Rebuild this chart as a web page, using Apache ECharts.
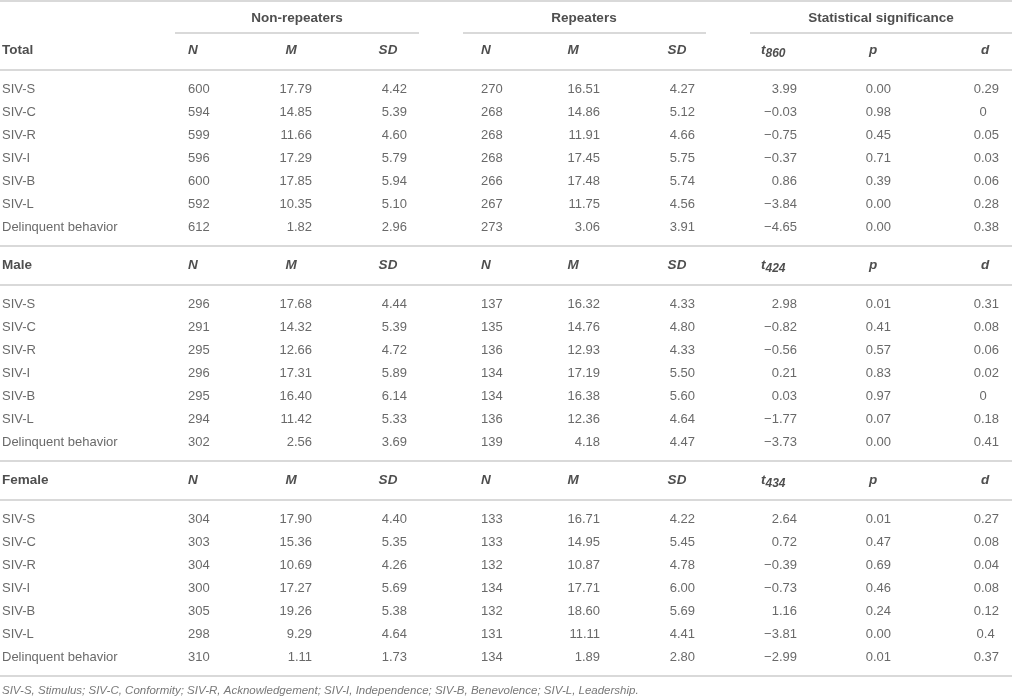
<!DOCTYPE html>
<html>
<head>
<meta charset="utf-8">
<title>Non-repeaters and repeaters</title>
<script src="https://cdn.jsdelivr.net/npm/echarts@6/dist/echarts.min.js"></script>
<style>
html,body{margin:0;padding:0;background:#fff;}
#main{width:1012px;height:698px;}
</style>
</head>
<body>
<div id="main"></div>
<script>
// 表格数据
var rowNames = ['SIV-S', 'SIV-C', 'SIV-R', 'SIV-I', 'SIV-B', 'SIV-L', 'Delinquent behavior'];
var groupNames = ['Total', 'Male', 'Female'];
var tDegrees = ['860', '424', '434'];
var topHeads = ['Non-repeaters', 'Repeaters', 'Statistical significance'];
var colHeads = ['N', 'M', 'SD', 'N', 'M', 'SD', 't', 'p', 'd'];
var footnote = 'SIV-S, Stimulus; SIV-C, Conformity; SIV-R, Acknowledgement; SIV-I, Independence; SIV-B, Benevolence; SIV-L, Leadership.';

// Total
var totalNonRepN = [600, 594, 599, 596, 600, 592, 612];
var totalNonRepM = [17.79, 14.85, 11.66, 17.29, 17.85, 10.35, 1.82];
var totalNonRepSD = [4.42, 5.39, 4.60, 5.79, 5.94, 5.10, 2.96];
var totalRepN = [270, 268, 268, 268, 266, 267, 273];
var totalRepM = [16.51, 14.86, 11.91, 17.45, 17.48, 11.75, 3.06];
var totalRepSD = [4.27, 5.12, 4.66, 5.75, 5.74, 4.56, 3.91];
var totalT = [3.99, -0.03, -0.75, -0.37, 0.86, -3.84, -4.65];
var totalP = [0.00, 0.98, 0.45, 0.71, 0.39, 0.00, 0.00];
var totalD = [0.29, 0, 0.05, 0.03, 0.06, 0.28, 0.38];
// Male
var maleNonRepN = [296, 291, 295, 296, 295, 294, 302];
var maleNonRepM = [17.68, 14.32, 12.66, 17.31, 16.40, 11.42, 2.56];
var maleNonRepSD = [4.44, 5.39, 4.72, 5.89, 6.14, 5.33, 3.69];
var maleRepN = [137, 135, 136, 134, 134, 136, 139];
var maleRepM = [16.32, 14.76, 12.93, 17.19, 16.38, 12.36, 4.18];
var maleRepSD = [4.33, 4.80, 4.33, 5.50, 5.60, 4.64, 4.47];
var maleT = [2.98, -0.82, -0.56, 0.21, 0.03, -1.77, -3.73];
var maleP = [0.01, 0.41, 0.57, 0.83, 0.97, 0.07, 0.00];
var maleD = [0.31, 0.08, 0.06, 0.02, 0, 0.18, 0.41];
// Female
var femaleNonRepN = [304, 303, 304, 300, 305, 298, 310];
var femaleNonRepM = [17.90, 15.36, 10.69, 17.27, 19.26, 9.29, 1.11];
var femaleNonRepSD = [4.40, 5.35, 4.26, 5.69, 5.38, 4.64, 1.73];
var femaleRepN = [133, 133, 132, 134, 132, 131, 134];
var femaleRepM = [16.71, 14.95, 10.87, 17.71, 18.60, 11.11, 1.89];
var femaleRepSD = [4.22, 5.45, 4.78, 6.00, 5.69, 4.41, 2.80];
var femaleT = [2.64, 0.72, -0.39, -0.73, 1.16, -3.81, -2.99];
var femaleP = [0.01, 0.47, 0.69, 0.46, 0.24, 0.00, 0.01];
var femaleD = [0.27, 0.08, 0.04, 0.08, 0.12, 0.4, 0.37];

var blocks = [
    [totalNonRepN, totalNonRepM, totalNonRepSD, totalRepN, totalRepM, totalRepSD, totalT, totalP, totalD],
    [maleNonRepN, maleNonRepM, maleNonRepSD, maleRepN, maleRepM, maleRepSD, maleT, maleP, maleD],
    [femaleNonRepN, femaleNonRepM, femaleNonRepSD, femaleRepN, femaleRepM, femaleRepSD, femaleT, femaleP, femaleD]
];

// 版式
var W = 1012, H = 698;
var font = '"Liberation Sans", Arial, Helvetica, sans-serif';
var bodyColor = '#444';
var headColor = '#222';
var ruleColor = '#cdcdcd';
var labelX = 2;
var colX = [188, 312, 407, 481, 600, 695, 797, 891, 999];
var colAlign = ['left', 'right', 'right', 'left', 'right', 'right', 'right', 'right', 'right'];
var headX = [188, 291, 388, 481, 573, 677, 761, 873, 985];
var headAlign = ['left', 'center', 'center', 'left', 'center', 'center', 'left', 'center', 'center'];
var topHeadX = [297, 584, 881];
var topHeadY = 18;
var underline = [[175, 419], [463, 706], [750, 1012]];
var underlineY = 33;
var blockTop = [50, 265, 480];
var rowStep = 23;

// d 列的对齐（原表不完全按小数点对齐）
var ctx = document.createElement('canvas').getContext('2d');
ctx.font = '13px ' + font;
var digitW = ctx.measureText('0').width * 0.6;
var dotW = ctx.measureText('.').width;

function fmt(col, v) {
    if (col === 0 || col === 3) return String(v);
    if (col === 8) return String(v);
    return v.toFixed(2).replace('-', '\u2212');
}
function decPad(s) {
    var i = s.indexOf('.');
    if (i < 0) return dotW + 2 * digitW;
    return (2 - (s.length - i - 1)) * digitW;
}

function cell(x, y, text, align, extra) {
    var label = { align: align };
    if (extra) for (var k in extra) label[k] = extra[k];
    return { value: [x, y, text], label: label };
}

var bodyCells = [], groupCells = [], headCells = [], topCells = [];
var rules = [{ coords: [[0, 1], [W, 1]] }];

topHeads.forEach(function (name, i) {
    topCells.push(cell(topHeadX[i], topHeadY, name, 'center'));
    rules.push({ coords: [[underline[i][0], underlineY], [underline[i][1], underlineY]] });
});

blocks.forEach(function (cols, b) {
    var top = blockTop[b];
    groupCells.push(cell(labelX, top, groupNames[b], 'left'));
    colHeads.forEach(function (h, c) {
        var text = c === 6 ? '{t|t}{s|' + tDegrees[b] + '}' : h;
        headCells.push(cell(headX[c], top, text, headAlign[c]));
    });
    rules.push({ coords: [[0, top + 20], [W, top + 20]] });
    rowNames.forEach(function (name, r) {
        var y = top + 39 + r * rowStep;
        bodyCells.push(cell(labelX, y, name, 'left'));
        cols.forEach(function (arr, c) {
            var s = fmt(c, arr[r]);
            var extra = c === 8 ? { padding: [0, decPad(s), 0, 0] } : null;
            bodyCells.push(cell(colX[c], y, s, colAlign[c], extra));
        });
    });
    rules.push({ coords: [[0, top + 196], [W, top + 196]] });
});

var footCells = [cell(labelX, blockTop[2] + 211, footnote, 'left')];

function textSeries(data, style) {
    var label = {
        show: true,
        position: 'inside',
        verticalAlign: 'middle',
        fontFamily: font,
        formatter: function (p) { return p.data.value[2]; }
    };
    for (var k in style) label[k] = style[k];
    return {
        type: 'scatter',
        symbolSize: 1,
        itemStyle: { color: 'rgba(0,0,0,0)' },
        silent: true,
        data: data,
        label: label
    };
}

var myChart = echarts.init(document.getElementById('main'), null, { renderer: 'canvas' });
var option = {
    backgroundColor: '#fff',
    animation: false,
    grid: { left: 0, right: 0, top: 0, bottom: 0 },
    xAxis: { type: 'value', min: 0, max: W, show: false },
    yAxis: { type: 'value', min: 0, max: H, inverse: true, show: false },
    series: [
        {
            type: 'lines',
            coordinateSystem: 'cartesian2d',
            silent: true,
            lineStyle: { color: ruleColor, width: 1.5, opacity: 1 },
            data: rules
        },
        textSeries(bodyCells, { fontSize: 13, color: bodyColor }),
        textSeries(groupCells, { fontSize: 13.5, fontWeight: 'bold', color: headColor }),
        textSeries(topCells, { fontSize: 13.5, fontWeight: 'bold', color: headColor }),
        textSeries(headCells, {
            fontSize: 13.5, fontWeight: 'bold', fontStyle: 'italic', color: headColor,
            rich: {
                t: { fontSize: 13.5, fontWeight: 'bold', fontStyle: 'italic', color: headColor, fontFamily: font, lineHeight: 19, verticalAlign: 'middle' },
                s: { fontSize: 12, fontWeight: 'bold', color: headColor, fontFamily: font, lineHeight: 12, verticalAlign: 'bottom' }
            }
        }),
        textSeries(footCells, { fontSize: 11.5, fontStyle: 'italic', color: '#555' })
    ]
};
myChart.setOption(option);
</script>
</body>
</html>
